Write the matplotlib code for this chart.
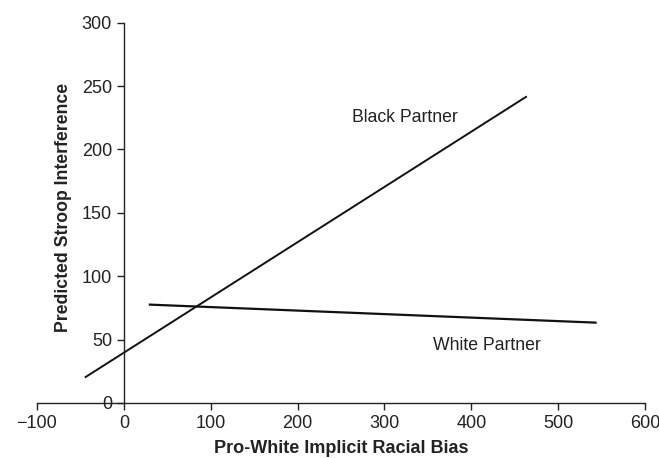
import matplotlib
matplotlib.use("Agg")
import matplotlib.pyplot as plt

# Data
black_x = [-44, 463]
black_y = [20.5, 241.5]
white_x = [30, 543]
white_y = [77.6, 63.4]
xticks = [-100, 0, 100, 200, 300, 400, 500, 600]
xticklabels = ["\u2212100", "0", "100", "200", "300", "400", "500", "600"]
yticks = [0, 50, 100, 150, 200, 250, 300]

plt.rcParams['font.family'] = ['Liberation Sans', 'DejaVu Sans']

fig = plt.figure(figsize=(6.59, 4.58), dpi=100)
ax = fig.add_axes([0.0561, 0.1201, 0.9788 - 0.0561, 0.9504 - 0.1201])

ax.plot(black_x, black_y, color='#111111', lw=1.4)
ax.plot(white_x, white_y, color='#111111', lw=1.6)

ax.text(323, 225, "Black Partner", ha='center', va='center', fontsize=12.7, color='#222222')
ax.text(418, 45, "White Partner", ha='center', va='center', fontsize=12.7, color='#222222')

ax.set_xlim(-100, 600)
ax.set_ylim(0, 300)
ax.set_xticks(xticks)
ax.set_xticklabels(xticklabels)
ax.set_yticks(yticks)

ax.spines['top'].set_visible(False)
ax.spines['right'].set_visible(False)
ax.spines['left'].set_position(('data', 0))
for s in ('left', 'bottom'):
    ax.spines[s].set_linewidth(1.0)
    ax.spines[s].set_color('#222222')

ax.tick_params(direction='out', length=5, width=1.0, labelsize=13, colors='#222222')

ax.set_xlabel("Pro-White Implicit Racial Bias", fontsize=13, fontweight='bold', labelpad=6, color='#222222')
ax.set_ylabel("Predicted Stroop Interference", fontsize=12.7, fontweight='bold', color='#222222')
ax.yaxis.set_label_coords(0.058, 0.513)

fig.savefig("out.png", dpi=100)
